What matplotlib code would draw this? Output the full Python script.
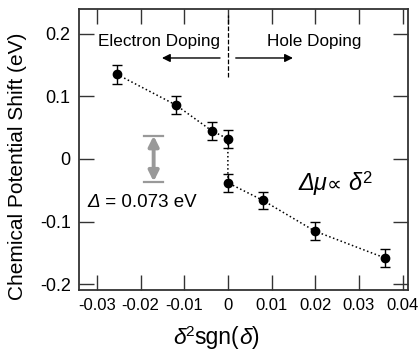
import matplotlib
matplotlib.use("Agg")
import matplotlib.pyplot as plt

plt.rcParams['font.family'] = ['Liberation Sans', 'DejaVu Sans']

# Data
x_vals = [-0.0254, -0.0119, -0.0037, 0.0, 0.0, 0.0080, 0.0199, 0.0360]
y_vals = [0.135, 0.086, 0.045, 0.032, -0.038, -0.066, -0.115, -0.158]
y_err = [0.015, 0.015, 0.014, 0.014, 0.014, 0.014, 0.014, 0.015]
x_ticks = [-0.03, -0.02, -0.01, 0, 0.01, 0.02, 0.03, 0.04]
x_tick_labels = ['-0.03', '-0.02', '-0.01', '0', '0.01', '0.02', '0.03', '0.04']
y_ticks = [-0.2, -0.1, 0, 0.1, 0.2]
y_tick_labels = ['-0.2', '-0.1', '0', '0.1', '0.2']
gap_top, gap_bottom = 0.037, -0.036

fig = plt.figure(figsize=(4.2, 3.49), dpi=100)
ax = fig.add_axes([0.188, 0.169, 0.783, 0.805])

ax.plot(x_vals, y_vals, linestyle=':', color='black', linewidth=1.1, zorder=2)
ax.errorbar(x_vals, y_vals, yerr=y_err, fmt='o', color='black', markersize=6,
            capsize=3.8, elinewidth=1.0, capthick=1.0, zorder=3)

ax.set_xlim(-0.0341, 0.0412)
ax.set_ylim(-0.209, 0.239)
ax.set_xticks(x_ticks)
ax.set_xticklabels(x_tick_labels)
ax.set_yticks(y_ticks)
ax.set_yticklabels(y_tick_labels)
ax.tick_params(direction='in', length=11, width=1.0, top=True, right=True,
               colors='#333333', labelcolor='black')
ax.tick_params(axis='x', labelsize=12, pad=6)
ax.tick_params(axis='y', labelsize=13, pad=6)
for s in ax.spines.values():
    s.set_linewidth(1.3)
    s.set_color('#333333')

# y label
fig.text(18 / 420, 1 - 166 / 349, 'Chemical Potential Shift (eV)', rotation=90,
         ha='center', va='center', fontsize=15)


def chain(first_xy, first_coords, pieces):
    """Place text pieces one after another on a shared baseline.
    Pieces flagged sup=True are raised and do not change the baseline reference."""
    s, kw = pieces[0]
    prev = ax.annotate(s, xy=first_xy, xycoords=first_coords, ha='left',
                       va='baseline', annotation_clip=False, **kw)
    base = prev
    for s, kw in pieces[1:]:
        kw = dict(kw)
        sup = kw.pop('sup', None)
        if sup is not None:
            prev = ax.annotate(s, xy=(1, sup), xycoords=(prev, base),
                               ha='left', va='bottom', annotation_clip=False, **kw)
        else:
            prev = ax.annotate(s, xy=(1, 0), xycoords=(prev, base),
                               ha='left', va='bottom', annotation_clip=False, **kw)
            base = prev
    return prev


# x label
chain((173, 349 - 344), 'figure pixels', [
    ('δ', dict(fontsize=16.5, fontstyle='italic')),
    ('2', dict(fontsize=11, sup=0.45)),
    ('sgn(', dict(fontsize=16.5)),
    ('δ', dict(fontsize=16.5, fontstyle='italic')),
    (')', dict(fontsize=16.5)),
])

# vertical dashed divider
ax.plot([0, 0], [0.131, 0.230], linestyle='--', color='black', linewidth=0.9)

# doping arrows
ax.annotate('', xy=(-0.0151, 0.161), xytext=(-0.0018, 0.161),
            arrowprops=dict(arrowstyle='-|>', color='black', lw=1.0,
                            mutation_scale=12, shrinkA=0, shrinkB=0))
ax.annotate('', xy=(0.0149, 0.161), xytext=(0.0018, 0.161),
            arrowprops=dict(arrowstyle='-|>', color='black', lw=1.0,
                            mutation_scale=12, shrinkA=0, shrinkB=0))
ax.text(-0.0157, 0.188, 'Electron Doping', ha='center', va='center', fontsize=12.3)
ax.text(0.0197, 0.188, 'Hole Doping', ha='center', va='center', fontsize=12.3)

# gap double arrow
gx = -0.0170
ax.annotate('', xy=(gx, gap_bottom), xytext=(gx, gap_top),
            arrowprops=dict(arrowstyle='<|-|>', color='#999999', lw=2.8,
                            mutation_scale=15, shrinkA=0, shrinkB=0))
ax.plot([gx - 0.0021, gx + 0.0021], [gap_top, gap_top], color='#999999', lw=1.6)
ax.plot([gx - 0.0021, gx + 0.0021], [gap_bottom, gap_bottom], color='#999999', lw=1.6)

chain((-0.0321, -0.076), 'data', [
    ('Δ', dict(fontsize=13.5, fontstyle='italic')),
    (' = 0.073 eV', dict(fontsize=13.5)),
])

chain((0.0161, -0.050), 'data', [
    ('Δμ', dict(fontsize=17, fontstyle='italic')),
    ('∝ ', dict(fontsize=15, family=['DejaVu Sans'])),
    ('δ', dict(fontsize=17, fontstyle='italic')),
    ('2', dict(fontsize=12, sup=0.4)),
])

fig.savefig('out.png', dpi=100)
